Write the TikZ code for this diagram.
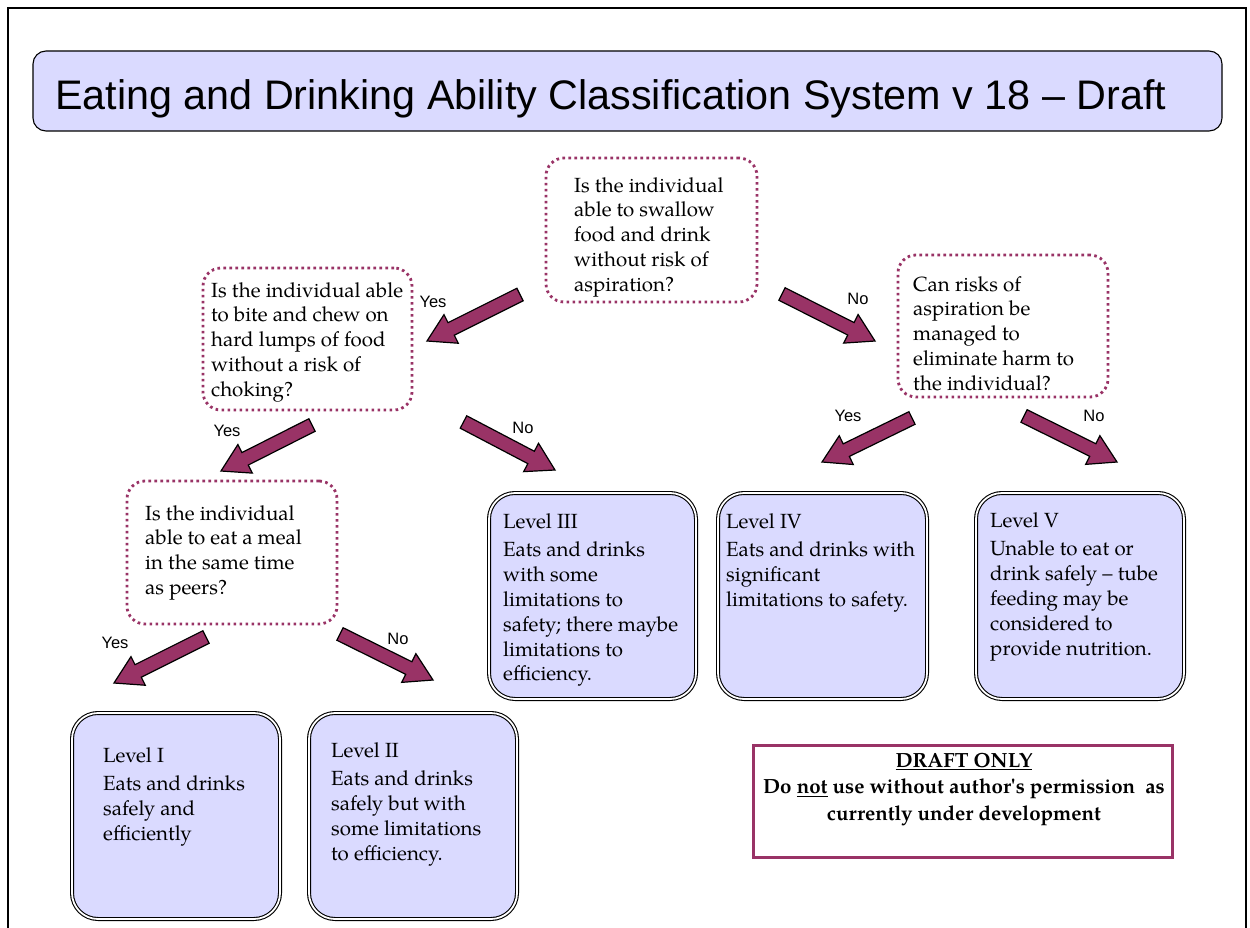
\documentclass[tikz,border=0pt]{standalone}
\usepackage{fontspec}
\usetikzlibrary{calc}
\newfontfamily\pal{TeX Gyre Pagella}[Ligatures=TeX]
\newfontfamily\arl{Liberation Sans}
\definecolor{plumc}{RGB}{153,51,102}
\definecolor{lav}{RGB}{218,218,255}
\tikzset{
  qbox/.style={draw=plumc, line width=2.8pt, dash pattern=on 2.6pt off 3.4pt,
    rounded corners=18pt, fill=white, inner sep=0pt},
  lbox/.style={draw=black, line width=1.1pt, double=white, double distance=1.8pt,
    rounded corners=26pt, fill=lav, inner sep=0pt},
  tbox/.style={draw=black, line width=1.1pt, rounded corners=13pt, fill=lav, inner sep=0pt},
  dbox/.style={draw=plumc, line width=3pt, fill=white, inner sep=0pt},
  txt/.style={anchor=north west, inner sep=0pt, align=left,
    font=\pal\fontsize{20.5}{24.8}\selectfont},
  yn/.style={inner sep=0pt, font=\arl\fontsize{16.5}{18}\selectfont},
  barrow/.style={fill=plumc, draw=black, line width=1.2pt, line join=miter},
}
\begin{document}
\begin{tikzpicture}[x=1pt,y=-1pt]
\useasboundingbox (0,0) rectangle (1250,928);
% page frame
\draw[line width=1.3pt] (8,928) -- (8,8) -- (1246,8) -- (1246,928);
% title
\node[tbox, minimum width=1189pt, minimum height=80pt] (title) at (627.5,91) {};
\node[anchor=base west, inner sep=0pt, font=\arl\fontsize{41.3}{41.3}\selectfont] (ttl) at (55,110)
  {Eating and Drinking Ability Classification System v 18 – Draft};
% question boxes
\node[qbox, minimum width=211pt, minimum height=144pt] (q1) at (651.5,230) {};
\node[txt] (q1t) at (574,177) {Is the individual\\able to swallow\\food and drink\\without risk of\\aspiration?};
\node[qbox, minimum width=209pt, minimum height=142pt] (q2) at (307.5,339) {};
\node[txt] (q2t) at (211,282) {Is the individual able\\to bite and chew on\\hard lumps of food\\without a risk of\\choking?};
\node[qbox, minimum width=210pt, minimum height=142pt] (q3) at (1003,326) {};
\node[txt] (q3t) at (913,276) {Can risks of\\aspiration be\\managed to\\eliminate harm to\\the individual?};
\node[qbox, minimum width=210pt, minimum height=143pt] (q4) at (232,552.5) {};
\node[txt] (q4t) at (145,505) {Is the individual\\able to eat a meal\\in the same time\\as peers?};
% level boxes
\node[lbox, minimum width=207pt, minimum height=206pt] (l3) at (592.5,596) {};
\node[txt] (l3t) at (503,513) {Level III\\[4pt]Eats and drinks\\with some\\limitations to\\safety; there maybe\\limitations to\\efficiency.};
\node[lbox, minimum width=209pt, minimum height=206pt] (l4) at (822.5,596) {};
\node[txt] (l4t) at (726,513) {Level IV\\[4pt]Eats and drinks with\\significant\\limitations to safety.};
\node[lbox, minimum width=208pt, minimum height=206pt] (l5) at (1080,596) {};
\node[txt] (l5t) at (990,512) {Level V\\[4pt]Unable to eat or\\drink safely -- tube\\feeding may be\\considered to\\provide nutrition.};
\node[lbox, minimum width=208pt, minimum height=206pt] (l1) at (176,816) {};
\node[txt] (l1t) at (103,747) {Level I\\[4pt]Eats and drinks\\safely and\\efficiently};
\node[lbox, minimum width=208pt, minimum height=206pt] (l2) at (413,816) {};
\node[txt] (l2t) at (331,742) {Level II\\[4pt]Eats and drinks\\safely but with\\some limitations\\to efficiency.};
% draft box
\node[dbox, minimum width=419pt, minimum height=112pt] (draft) at (963,801.5) {};
\node[anchor=north, inner sep=0pt, align=center, font=\pal\bfseries\fontsize{20.5}{26.5}\selectfont] (draftt) at (964,753)
  {\underline{DRAFT ONLY}\\Do \underline{not} use without author\textquotesingle s permission\ \ as\\currently under development};
% arrows
\coordinate (t1) at (520,294.5);  \coordinate (h1) at (427,341);
\coordinate (t2) at (782,294);    \coordinate (h2) at (875,341);
\coordinate (t3) at (463.5,422);  \coordinate (h3) at (555,470);
\coordinate (t4) at (312,425);    \coordinate (h4) at (221,471);
\coordinate (t5) at (912,418);    \coordinate (h5) at (822,462);
\coordinate (t6) at (1024,416);   \coordinate (h6) at (1117,462);
\coordinate (t7) at (206,637);    \coordinate (h7) at (114,683);
\coordinate (t8) at (340,634);    \coordinate (h8) at (433,680);
\foreach \a/\b in {t1/h1,t2/h2,t3/h3,t4/h4,t5/h5,t6/h6,t7/h7,t8/h8}{
  \path ($(\b)!27pt!(\a)$) coordinate (n);
  \draw[barrow] ($(\a)!7pt!90:(\b)$) -- ($(n)!7pt!-90:(\a)$) -- ($(n)!16pt!-90:(\a)$) -- (\b)
    -- ($(n)!16pt!90:(\a)$) -- ($(n)!7pt!90:(\a)$) -- ($(\a)!7pt!-90:(\b)$) -- cycle;
}
% labels
\node[yn] (y1) at (433,302) {Yes};
\node[yn] (n2) at (858,299) {No};
\node[yn] (n3) at (523,428) {No};
\node[yn] (y4) at (227,431) {Yes};
\node[yn] (y5) at (848,416) {Yes};
\node[yn] (n6) at (1094,416) {No};
\node[yn] (y7) at (115,643) {Yes};
\node[yn] (n8) at (398,639) {No};
\end{tikzpicture}
\end{document}
